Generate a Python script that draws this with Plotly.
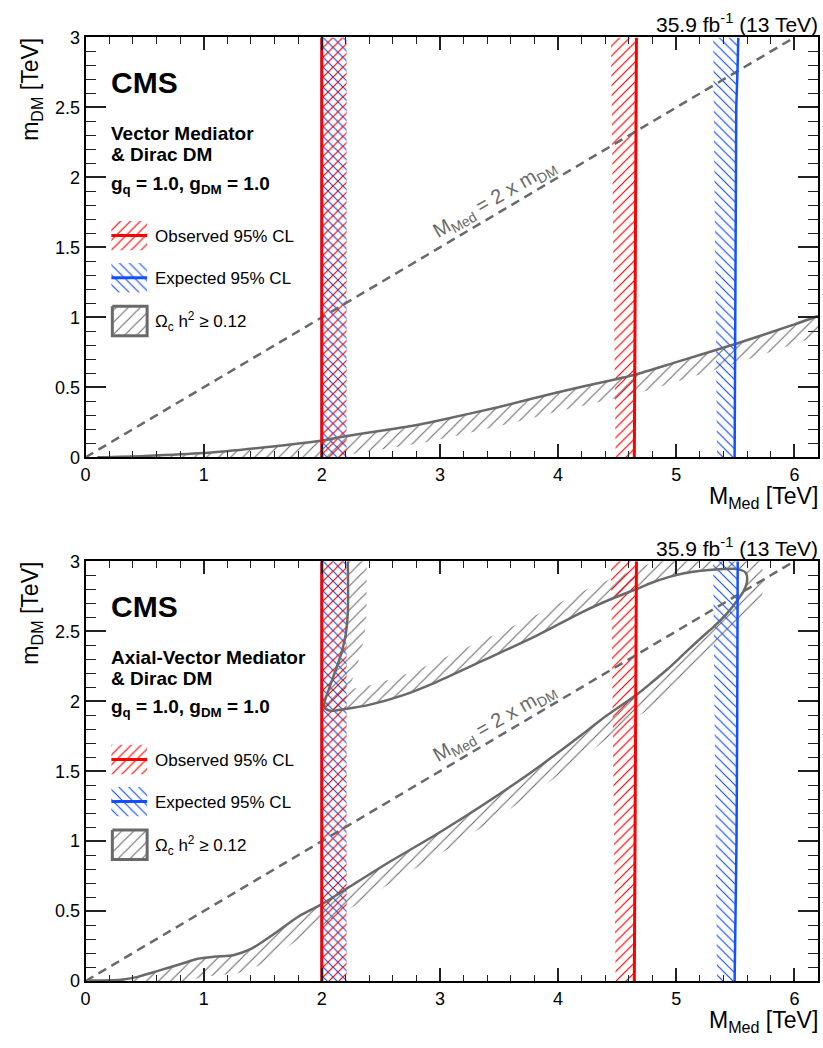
import numpy as np
import plotly.graph_objects as go

# ---------------- data ----------------
# Vector mediator panel: relic density curve Omega h^2 = 0.12
relic_vec_x = [0.1, 0.5, 1.0, 1.5, 2.0, 2.2, 2.5, 2.83, 3.0, 3.5, 4.0, 4.5, 4.65, 5.0, 5.5, 6.0, 6.2]
relic_vec_y = [0.0, 0.01, 0.03, 0.07, 0.12, 0.15, 0.19, 0.235, 0.265, 0.36, 0.465, 0.56, 0.59, 0.68, 0.81, 0.95, 1.01]

# Axial-vector panel: relic density contour (lower branch -> loop -> upper branch -> vertical)
relic_ax_x = [0.03, 0.3, 0.44, 0.62, 0.8, 0.95, 1.1, 1.25, 1.4, 1.6, 1.8, 2.0, 2.22, 2.53, 3.02, 3.70,
              4.20, 4.366, 4.66, 4.787, 4.927, 5.067, 5.207, 5.32, 5.43, 5.516, 5.572, 5.60, 5.586, 5.516,
              5.40, 5.207, 5.067, 4.927, 4.787, 4.66, 4.507, 4.366, 4.20, 3.81, 3.39, 2.97, 2.69, 2.40,
              2.21, 2.07, 2.02, 2.07, 2.15, 2.20, 2.22, 2.22]
relic_ax_y = [0.005, 0.01, 0.03, 0.075, 0.12, 0.16, 0.175, 0.185, 0.23, 0.34, 0.46, 0.55, 0.666, 0.83, 1.074, 1.449,
              1.76, 1.87, 2.044, 2.13, 2.23, 2.34, 2.45, 2.535, 2.628, 2.72, 2.79, 2.862, 2.92, 2.944,
              2.944, 2.932, 2.915, 2.885, 2.845, 2.80, 2.75, 2.70, 2.635, 2.465, 2.30, 2.137, 2.044, 1.974,
              1.946, 1.932, 1.962, 2.11, 2.30, 2.465, 2.63, 3.0]

# Observed 95% CL exclusion boundaries (same in both panels)
obs_left_y = [0.0, 3.0]
obs_left_x = [2.0, 2.0]
obs_left_edge = [2.21, 2.21]
obs_right_y = [0.0, 3.0]
obs_right_x = [4.645, 4.663]
obs_right_edge = [4.487, 4.447]

# Expected 95% CL exclusion boundaries
exp_left_y = [0.0, 3.0]
exp_left_x = [2.0, 2.0]
exp_left_edge = [2.21, 2.21]
exp_right_y_vec = [0.0, 1.8, 2.5, 2.78, 3.0]
exp_right_x_vec = [5.494, 5.502, 5.508, 5.519, 5.525]
exp_right_y_ax = [0.0, 1.0, 1.86, 3.0]
exp_right_x_ax = [5.494, 5.51, 5.516, 5.52]
exp_right_edge_y = [0.0, 3.0]
exp_right_edge = [5.345, 5.312]

# Kinematic line M_Med = 2 x m_DM
diag_x = [0.0, 6.0]
diag_y = [0.0, 3.0]

x_ticks = [0, 1, 2, 3, 4, 5, 6]
y_ticks = [0, 0.5, 1, 1.5, 2, 2.5, 3]
y_tick_text = ["0", "0.5", "1", "1.5", "2", "2.5", "3"]

panel_titles = [["Vector Mediator", "& Dirac DM"], ["Axial-Vector Mediator", "& Dirac DM"]]

# ---------------- layout constants ----------------
W, H = 823, 1048
L, R = 81, 818
TOPS = [28, 562]
BOTS = [456, 990]
XMAX, YMAX = 6.2, 3.0
SX = (R - L) / XMAX
SY = (BOTS[0] - TOPS[0]) / YMAX
FONT = "Liberation Sans, Arial, Helvetica, sans-serif"
GRAY = "rgb(105,105,105)"
RED = "rgb(255,0,0)"
BLUE = "rgb(20,80,255)"
CLEAR = "rgba(0,0,0,0)"
HS_RB, SOL_RB = 7, 0.17     # red/blue hatch tile size and solidity
HS_G, SOL_G = 8.5, 0.13     # gray hatch


def offset_band(x, y, d):
    """Polygon of a hatch band of width d px on the right side of the traversal."""
    px = np.asarray(x, float) * SX
    py = np.asarray(y, float) * SY
    tx = np.gradient(px)
    ty = np.gradient(py)
    n = np.hypot(tx, ty)
    nx, ny = ty / n, -tx / n
    ox = (px + d * nx) / SX
    oy = (py + d * ny) / SY
    bx = list(x) + list(ox[::-1]) + [x[0]]
    by = list(y) + list(oy[::-1]) + [y[0]]
    return bx, by


def edge_band(lx, ly, ex, ey):
    return list(lx) + list(ex[::-1]) + [lx[0]], list(ly) + list(ey[::-1]) + [ly[0]]


def hatch(shape, color, size, sol):
    return dict(shape=shape, fgcolor=color, bgcolor=CLEAR, size=size, solidity=sol, fillmode="replace")


fig = go.Figure()

for i in range(2):
    xa = "x" if i == 0 else "x2"
    ya = "y" if i == 0 else "y2"
    rx = relic_vec_x if i == 0 else relic_ax_x
    ry = relic_vec_y if i == 0 else relic_ax_y
    erx = exp_right_x_vec if i == 0 else exp_right_x_ax
    ery = exp_right_y_vec if i == 0 else exp_right_y_ax

    # relic hatch band
    bx, by = offset_band(rx, ry, 19)
    fig.add_trace(go.Scatter(x=bx, y=by, xaxis=xa, yaxis=ya, mode="none", fill="toself",
                             fillcolor=CLEAR, fillpattern=hatch("/", GRAY, HS_G, SOL_G),
                             hoverinfo="skip", showlegend=False))
    # expected bands
    bx, by = edge_band(exp_left_x, exp_left_y, exp_left_edge, exp_left_y)
    fig.add_trace(go.Scatter(x=bx, y=by, xaxis=xa, yaxis=ya, mode="none", fill="toself",
                             fillcolor=CLEAR, fillpattern=hatch("\\", BLUE, HS_RB, SOL_RB),
                             hoverinfo="skip", showlegend=False))
    bx, by = edge_band(erx, ery, exp_right_edge, exp_right_edge_y)
    fig.add_trace(go.Scatter(x=bx, y=by, xaxis=xa, yaxis=ya, mode="none", fill="toself",
                             fillcolor=CLEAR, fillpattern=hatch("\\", BLUE, HS_RB, SOL_RB),
                             hoverinfo="skip", showlegend=False))
    # observed bands
    bx, by = edge_band(obs_left_x, obs_left_y, obs_left_edge, obs_left_y)
    fig.add_trace(go.Scatter(x=bx, y=by, xaxis=xa, yaxis=ya, mode="none", fill="toself",
                             fillcolor=CLEAR, fillpattern=hatch("/", RED, HS_RB, SOL_RB),
                             hoverinfo="skip", showlegend=False))
    bx, by = edge_band(obs_right_x, obs_right_y, obs_right_edge, obs_right_y)
    fig.add_trace(go.Scatter(x=bx, y=by, xaxis=xa, yaxis=ya, mode="none", fill="toself",
                             fillcolor=CLEAR, fillpattern=hatch("/", RED, HS_RB, SOL_RB),
                             hoverinfo="skip", showlegend=False))
    # relic line
    fig.add_trace(go.Scatter(x=rx, y=ry, xaxis=xa, yaxis=ya, mode="lines",
                             line=dict(color=GRAY, width=2.5, shape="spline", smoothing=0.8),
                             hoverinfo="skip", showlegend=False))
    # diagonal
    fig.add_trace(go.Scatter(x=diag_x, y=diag_y, xaxis=xa, yaxis=ya, mode="lines",
                             line=dict(color=GRAY, width=2.5, dash="9px,6px"),
                             hoverinfo="skip", showlegend=False))
    # expected lines
    fig.add_trace(go.Scatter(x=exp_left_x, y=exp_left_y, xaxis=xa, yaxis=ya, mode="lines",
                             line=dict(color=BLUE, width=2.5), hoverinfo="skip", showlegend=False))
    fig.add_trace(go.Scatter(x=erx, y=ery, xaxis=xa, yaxis=ya, mode="lines",
                             line=dict(color=BLUE, width=2.5), hoverinfo="skip", showlegend=False))
    # observed lines
    fig.add_trace(go.Scatter(x=obs_left_x, y=obs_left_y, xaxis=xa, yaxis=ya, mode="lines",
                             line=dict(color=RED, width=3), hoverinfo="skip", showlegend=False))
    fig.add_trace(go.Scatter(x=obs_right_x, y=obs_right_y, xaxis=xa, yaxis=ya, mode="lines",
                             line=dict(color=RED, width=3), hoverinfo="skip", showlegend=False))

# ---------------- legend swatches on a pixel overlay axis ----------------
swatches = [  # (x0, x1, y0, y1, shape, color, kind)
    (107, 143, 215, 245, "/", RED, "mid"),
    (107, 143, 258, 288, "\\", BLUE, "mid"),
    (108, 143, 302, 332, "/", GRAY, "box"),
]
for i in range(2):
    dy = TOPS[i] - TOPS[0]
    for (x0, x1, y0, y1, shp, col, kind) in swatches:
        sx = [x0, x1, x1, x0, x0]
        sy = [y0 + dy, y0 + dy, y1 + dy, y1 + dy, y0 + dy]
        g = col == GRAY
        fig.add_trace(go.Scatter(x=sx, y=sy, xaxis="x3", yaxis="y3",
                                 mode="lines" if kind == "box" else "none", fill="toself",
                                 fillcolor=CLEAR,
                                 fillpattern=hatch(shp, col, HS_G if g else HS_RB, SOL_G if g else SOL_RB),
                                 line=dict(color=GRAY, width=3), hoverinfo="skip", showlegend=False))
        if kind == "mid":
            ym = (y0 + y1) / 2 + dy
            fig.add_trace(go.Scatter(x=[x0, x1], y=[ym, ym], xaxis="x3", yaxis="y3", mode="lines",
                                     line=dict(color=col, width=3), hoverinfo="skip", showlegend=False))

# ---------------- axes ----------------
xd = [L / W, R / W]


def xaxis_cfg(anchor):
    return dict(domain=xd, range=[0, XMAX], anchor=anchor, showgrid=False, zeroline=False,
                showline=True, linecolor="black", linewidth=2, mirror="ticks",
                ticks="inside", ticklen=13, tickwidth=1.5, tickcolor="#222",
                tickvals=x_ticks, ticktext=[str(v) for v in x_ticks],
                tickfont=dict(family=FONT, size=18, color="black"),
                minor=dict(dtick=0.2, ticks="inside", ticklen=6.5, tickwidth=1.3, tickcolor="#222", showgrid=False),
                fixedrange=True)


def yaxis_cfg(dom, anchor):
    return dict(domain=dom, range=[0, YMAX], anchor=anchor, showgrid=False, zeroline=False,
                showline=True, linecolor="black", linewidth=2, mirror="ticks",
                ticks="inside", ticklen=20, tickwidth=1.5, tickcolor="#222",
                tickvals=y_ticks, ticktext=y_tick_text,
                tickfont=dict(family=FONT, size=18, color="black"),
                minor=dict(dtick=0.1, ticks="inside", ticklen=10, tickwidth=1.3, tickcolor="#222", showgrid=False),
                fixedrange=True)


fig.update_layout(
    width=W, height=H, margin=dict(l=0, r=0, t=0, b=0),
    paper_bgcolor="white", plot_bgcolor=CLEAR, showlegend=False,
    xaxis=xaxis_cfg("y"),
    yaxis=yaxis_cfg([1 - BOTS[0] / H, 1 - TOPS[0] / H], "x"),
    xaxis2=xaxis_cfg("y2"),
    yaxis2=yaxis_cfg([1 - BOTS[1] / H, 1 - TOPS[1] / H], "x2"),
    xaxis3=dict(domain=[0, 1], range=[0, W], anchor="y3", visible=False, fixedrange=True),
    yaxis3=dict(domain=[0, 1], range=[H, 0], anchor="x3", visible=False, fixedrange=True),
)

# ---------------- text ----------------
anns = []


def ann(px, py, text, size, xanchor="left", yanchor="middle", color="black", angle=0):
    anns.append(dict(x=px / W, y=1 - py / H, xref="paper", yref="paper", text=text, showarrow=False,
                     xanchor=xanchor, yanchor=yanchor, textangle=angle, borderpad=0,
                     font=dict(family=FONT, size=size, color=color)))


for i in range(2):
    dy = TOPS[i] - TOPS[0]
    ann(R + 1, 13 + dy, "35.9 fb<sup>-1</sup> (13 TeV)", 21, xanchor="right")
    ann(106, 74 + dy, "<b>CMS</b>", 30)
    ann(106, 126 + dy, "<b>%s</b>" % panel_titles[i][0], 19)
    ann(106, 147 + dy, "<b>%s</b>" % panel_titles[i][1], 19)
    ann(106, 178 + dy, "<b>g<sub>q</sub> = 1.0, g<sub>DM</sub> = 1.0</b>", 19)
    ann(150, 231 + dy, "Observed 95% CL", 17)
    ann(150, 274 + dy, "Expected 95% CL", 17)
    ann(150, 318 + dy, "Ω<sub>c</sub> h<sup>2</sup> ≥ 0.12", 17)
    ann(492, 193 + dy, "M<sub>Med</sub> = 2 x m<sub>DM</sub>", 20, xanchor="center", color=GRAY, angle=-30)
    ann(R + 1, 497 + dy, "M<sub>Med</sub> [TeV]", 23, xanchor="right")
    ann(27, 27 + dy, "m<sub>DM</sub> [TeV]", 23, xanchor="center", yanchor="top", angle=-90)

fig.update_layout(annotations=anns)

fig.write_html(
    "out.html",
    config={"displayModeBar": False},
    post_script="document.body.style.margin='0';document.body.style.padding='0';"
                "document.documentElement.style.overflow='hidden';",
)
